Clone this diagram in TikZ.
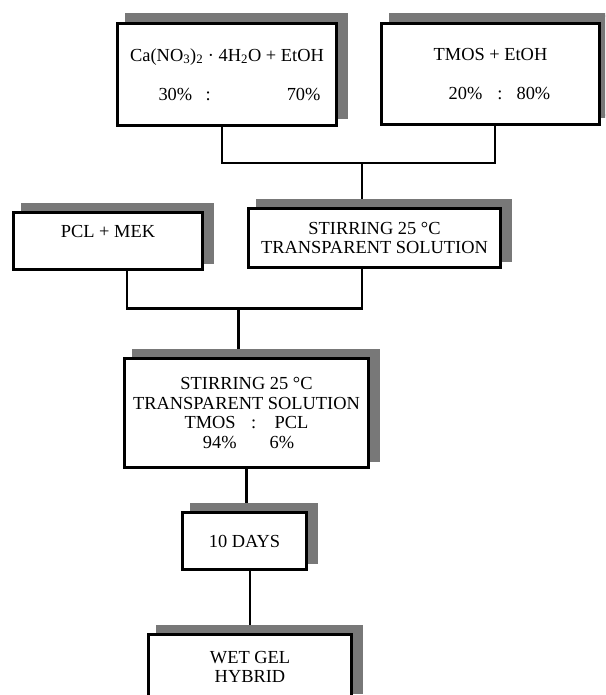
\documentclass[tikz,border=0pt]{standalone}
\usepackage{fontspec}
\setmainfont{Liberation Serif}
\usetikzlibrary{shadows,calc,backgrounds}
\definecolor{shadowgray}{RGB}{120,120,120}
\tikzset{
  box/.style={draw=black, line width=3pt, fill=white, align=center, inner sep=0pt,
    font=\fontsize{18.4}{19.5}\selectfont,
    drop shadow={shadow xshift=9pt, shadow yshift=8pt, opacity=1,
      fill=shadowgray, draw=shadowgray, line width=4pt}},
  link/.style={line width=2.8pt, line join=miter, draw=black}
}
\begin{document}
\begin{tikzpicture}[x=1pt,y=-1pt]
\useasboundingbox (0,0) rectangle (605,695);
\clip (0,0) rectangle (605,695);

\node[box, minimum width=219pt, minimum height=102pt] (ca) at (227,74.5)
  {Ca(NO\textsubscript{3})\textsubscript{2} · 4H\textsubscript{2}O + EtOH\\[19.5pt]\makebox[189pt][l]{\hspace*{26pt}30\%\hspace{13.5pt}:\hfill 70\%\hspace*{1pt}}};
\node[box, minimum width=218pt, minimum height=101pt] (tm) at (490.5,74)
  {TMOS + EtOH\\[19.5pt]\hspace*{18pt}20\%\hspace{15pt}:\hspace{14pt}80\%};
\node[box, minimum width=189pt, minimum height=57pt] (pcl) at (108,241)
  {PCL + MEK\\\mbox{}};
\node[box, minimum width=252pt, minimum height=59pt] (st) at (374.5,238)
  {STIRRING 25 °C\\TRANSPARENT SOLUTION};
\node[box, minimum width=244pt, minimum height=109pt] (big) at (246.5,413)
  {STIRRING 25 °C\\TRANSPARENT SOLUTION\\TMOS\hspace{15.5pt}:\hspace{18.5pt}PCL\\\hspace*{4pt}94\%\hspace{33pt}6\%};
\node[box, minimum width=124pt, minimum height=57pt] (days) at (244.5,541)
  {10 DAYS};
\node[box, minimum width=203pt, minimum height=65pt] (wet) at (250,667)
  {WET GEL\\HYBRID};

\coordinate (j1) at (362,163);
\coordinate (j2) at (238.5,308.5);

\begin{scope}[on background layer]
  \draw[link] ([xshift=-5pt]ca.south) |- (j1) -| ([xshift=4.5pt]tm.south);
  \draw[link] (j1) -- (j1 |- st.north);
  \draw[link] ([xshift=19pt]pcl.south) |- (j2) -| ([xshift=-12.5pt]st.south);
  \draw[link] (j2) -- (j2 |- big.north);
  \draw[link] (big.south) -- (big.south |- days.north);
  \draw[link] (wet.north |- days.south) -- (wet.north);
\end{scope}
\end{tikzpicture}
\end{document}
